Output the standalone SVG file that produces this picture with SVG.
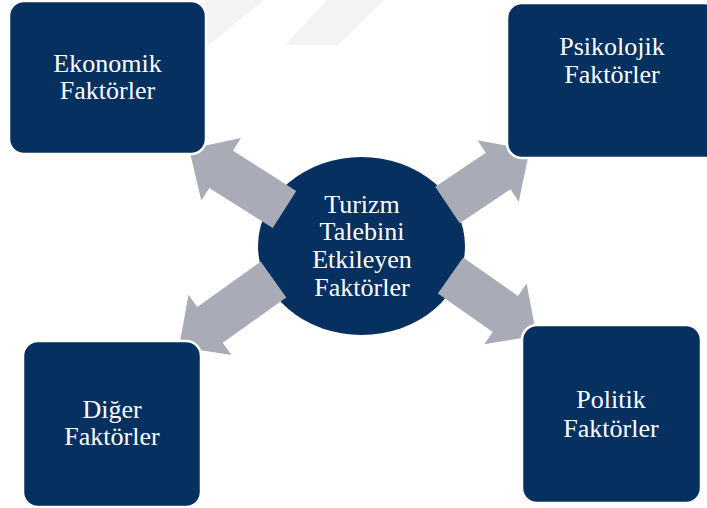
<svg xmlns="http://www.w3.org/2000/svg" width="707" height="508" viewBox="0 0 707 508">
<style>
.box{fill:#05305f;stroke:#ffffff;stroke-width:2.5}
.arrow{fill:#a9abb6}
.lbl{font-family:"Liberation Serif","Times New Roman","DejaVu Serif",serif;font-size:26px;fill:#ffffff;text-anchor:middle}
.wm{fill:#f3f3f3}
</style>
<rect width="707" height="508" fill="#ffffff"/>
<g id="watermark">
<polygon class="wm" points="205,0 264,0 210,44 205,44"/>
<polygon class="wm" points="327,0 384,0 338,45 285,45"/>
</g>
<g id="center">
<ellipse cx="361.5" cy="246" rx="103.5" ry="89" fill="#05305f"/>
<text class="lbl" x="362" y="213">Turizm</text>
<text class="lbl" x="362" y="240">Talebini</text>
<text class="lbl" x="362" y="268">Etkileyen</text>
<text class="lbl" x="362" y="296">Faktörler</text>
</g>
<g id="connectors">
<path class="arrow" transform="translate(284.5,209.5) rotate(212.4)" d="M0,-22 L75,-22 L75,-37 L113,0 L75,37 L75,22 L0,22 Z"/>
<path class="arrow" transform="translate(447.5,205) rotate(-33.9)" d="M0,-22 L61,-22 L61,-37 L99,0 L61,37 L61,22 L0,22 Z"/>
<path class="arrow" transform="translate(273.5,279.5) rotate(144.5)" d="M0,-22 L78,-22 L78,-37 L116,0 L78,37 L78,22 L0,22 Z"/>
<path class="arrow" transform="translate(450.5,275.5) rotate(35)" d="M0,-22 L67,-22 L67,-37 L105,0 L67,37 L67,22 L0,22 Z"/>
</g>
<g id="ekonomik">
<rect class="box" x="9" y="1" width="197" height="153" rx="15"/>
<text class="lbl" x="107.5" y="72">Ekonomik</text>
<text class="lbl" x="107.5" y="99">Faktörler</text>
</g>
<g id="psikolojik">
<rect class="box" x="507" y="3" width="212" height="155" rx="15"/>
<text class="lbl" x="612" y="55">Psikolojik</text>
<text class="lbl" x="612" y="83">Faktörler</text>
</g>
<g id="diger">
<rect class="box" x="23" y="341" width="178" height="166" rx="15"/>
<text class="lbl" x="112" y="418">Diğer</text>
<text class="lbl" x="112" y="445">Faktörler</text>
</g>
<g id="politik">
<rect class="box" x="522" y="325" width="179" height="178" rx="15"/>
<text class="lbl" x="611" y="408">Politik</text>
<text class="lbl" x="611" y="437">Faktörler</text>
</g>
</svg>
